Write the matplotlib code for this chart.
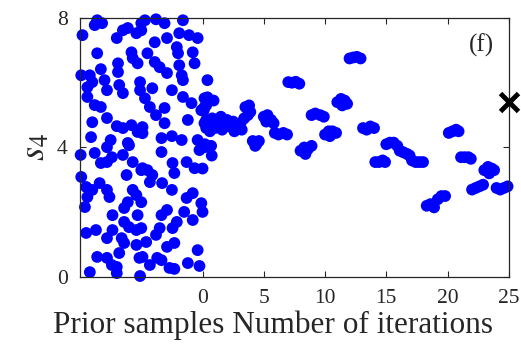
import matplotlib
matplotlib.use("Agg")
import matplotlib.pyplot as plt

plt.rcParams['font.family'] = ['Liberation Serif', 'DejaVu Serif']
plt.rcParams['mathtext.fontset'] = 'stix'

# prior samples (plotted on negative side)
prior_x = [-8.6, -8.2, -8.8, -9.8, -7.0, -6.5, -6.1, -5.4, -5.0, -8.6, -5.8, -5.7, -5.3, -6.9,
           -6.9, -8.3, -9.9, -9.2, -9.4, -9.0, -8.0, -7.8, -6.8, -6.5, -5.1, -5.1, -9.4, -8.8,
           -8.3, -9.0, -7.8, -7.0, -6.5, -5.8, -5.3, -4.9, -9.1, -7.5, -6.1,
           -4.7, -3.8, -3.1, -1.6, -5.0, -3.9, -2.9, -1.9, -1.1, -0.4, -4.5, -2.1, -2.0, -0.8,
           -0.65, -3.9, -3.5, -1.9, -1.7, -2.9, -1.6, 0.4, -4.1, -2.5, -1.6, -0.9, 0.16, 0.16,
           -4.7, -4.3, -3.1, -3.8, -3.1, -1.2, -0.1, 0.16, -4.9, -3.35, -2.5, -1.7, -0.4,
           -7.8, -6.0, -9.95, -8.8, -7.4, -6.5, -8.3, -7.8, -5.7, -5.0, -6.2, -9.9, -9.5, -9.0,
           -8.4, -7.8, -9.4, -7.6, -5.7, -5.4, -9.6, -6.1, -6.4, -7.35, -5.3, -6.4, -6.0, -5.4,
           -5.0, -9.5, -8.7, -7.35, -7.8, -6.6, -6.4, -5.4, -6.8, -8.6, -7.8, -7.4, -7.0, -5.15,
           -9.2, -7.0,
           0.16, -3.35, -0.25, -2.45, -1.3, -0.65, -4.9, -4.5, -4.1, -4.3, -2.3, -3.3, -2.5,
           -5.0, -0.8, -1.3, -0.1, 0.0, -1.5, -0.8, -3.35, -2.9, -2.1, -2.45, -3.5, -3.8, -4.6,
           -2.9, -2.3, -0.4, -4.9, -3.7, -3.35, -4.3, -2.7, -2.3, -1.2, -0.25, -5.1]
prior_y = [7.93, 7.84, 7.78, 7.47, 7.38, 7.62, 7.69, 7.53, 7.84, 6.91, 6.94, 6.76, 6.60, 6.60,
           6.33, 6.42, 6.23, 6.23, 5.86, 6.02, 6.08, 5.77, 5.93, 5.68, 6.02, 5.77, 5.56, 5.31,
           5.25, 4.78, 4.91, 4.66, 4.60, 4.69, 4.48, 4.63, 4.32, 4.23, 4.14,
           7.93, 7.96, 7.84, 7.93, 7.62, 7.25, 7.38, 7.53, 7.47, 7.38, 6.91, 7.10, 6.91, 6.94,
           6.60, 6.64, 6.48, 6.54, 6.23, 6.30, 6.08, 6.08, 5.83, 5.77, 5.56, 5.37, 5.52, 5.25,
           5.52, 5.25, 5.22, 5.00, 4.75, 4.85, 5.15, 4.75, 4.44, 4.29, 4.35, 4.23, 4.23,
           4.01, 4.07, 3.77, 3.83, 3.70, 3.77, 3.52, 3.55, 3.55, 3.30, 3.15, 3.09, 2.78, 2.69,
           2.90, 2.69, 2.47, 2.47, 2.69, 2.53, 2.16, 2.31, 2.13, 1.91, 1.91, 1.70, 1.54, 1.45,
           1.51, 1.36, 1.45, 1.45, 1.20, 1.20, 1.05, 0.99, 0.74, 0.62, 0.59, 0.37, 0.31, 0.59,
           0.15, 0.12,
           4.01, 3.86, 3.92, 3.52, 3.55, 3.36, 3.36, 3.30, 3.15, 2.93, 3.21, 2.90, 2.69,
           2.31, 2.59, 2.44, 2.28, 2.01, 2.01, 1.76, 1.91, 2.07, 1.70, 1.51, 1.51, 1.30, 1.08,
           0.93, 1.05, 0.83, 0.62, 0.59, 0.52, 0.37, 0.28, 0.25, 0.43, 0.34, 0.03]

# samples chosen during the iterations
iter_x = [0.1, 0.3, 0.4, 0.9, 0.2, 0.7, 0.75, 0.0, 0.3, 0.8, 0.3, 1.1,
          1.0, 1.3, 1.6, 1.9, 2.2, 2.5, 2.8, 3.1, 3.4, 3.7, 3.2, 2.0, 1.5, 0.6, 2.6, 3.9,
          3.5, 3.8,
          4.1, 4.4, 4.6, 4.3,
          5.0, 5.3, 5.6, 5.8, 5.2,
          5.9, 6.2, 6.6, 6.9,
          7.0, 7.3, 7.6, 7.9,
          8.0, 8.3, 8.6, 8.9, 8.4,
          8.9, 9.2, 9.6, 9.9,
          10.0, 10.3, 10.6, 10.9, 10.4,
          11.0, 11.3, 11.6, 11.4, 11.8,
          12.0, 12.3, 12.6, 12.9,
          13.1, 13.4, 13.7, 14.0,
          14.1, 14.4, 14.7, 14.9,
          15.0, 15.3, 15.6, 15.9,
          16.1, 16.4, 16.7, 16.9,
          17.1, 17.4, 17.7, 18.0,
          18.3, 18.6, 18.9,
          19.2, 19.5, 19.8,
          20.1, 20.4, 20.7, 20.9,
          21.1, 21.4, 21.7, 21.9,
          22.0, 22.3, 22.6, 22.9,
          23.0, 23.3, 23.6, 23.4, 23.8,
          24.0, 24.3, 24.6, 24.9]
iter_y = [5.15, 4.85, 5.55, 5.45, 4.10, 4.05, 3.75, 3.35, 5.30, 4.90, 4.60, 4.70,
          4.60, 4.75, 4.55, 4.70, 4.65, 4.80, 4.60, 4.75, 4.90, 5.00, 4.55, 4.85, 4.95, 4.50, 4.50, 5.10,
          5.25, 5.30,
          4.20, 4.10, 4.20, 4.05,
          4.95, 5.00, 4.85, 4.75, 4.80,
          4.45, 4.40, 4.45, 4.40,
          6.02, 6.00, 6.03, 5.97,
          3.90, 4.00, 3.95, 4.05, 3.80,
          5.00, 5.05, 5.00, 4.95,
          4.40, 4.50, 4.50, 4.45, 4.35,
          5.40, 5.50, 5.45, 5.30, 5.35,
          6.75, 6.78, 6.80, 6.75,
          4.60, 4.55, 4.65, 4.60,
          3.55, 3.55, 3.60, 3.55,
          4.10, 4.15, 4.15, 4.05,
          3.90, 3.85, 3.80, 3.75,
          3.60, 3.55, 3.55, 3.55,
          2.20, 2.25, 2.15,
          2.40, 2.50, 2.50,
          4.45, 4.50, 4.55, 4.50,
          3.70, 3.70, 3.70, 3.65,
          2.70, 2.75, 2.80, 2.85,
          3.30, 3.40, 3.35, 3.20, 3.30,
          2.75, 2.70, 2.75, 2.80]

true_x = [25]
true_y = [5.4]

xticks = [0, 5, 10, 15, 20, 25]
yticks = [0, 4, 8]

fig = plt.figure(figsize=(5.21, 3.5), dpi=100)
ax = fig.add_axes([0.1536, 0.2086, 0.823, 0.74])

ax.scatter(prior_x, prior_y, s=72, color='#0000ff', edgecolors='none', zorder=2, clip_on=False)
ax.scatter(iter_x, iter_y, s=72, color='#0000ff', edgecolors='none', zorder=2, clip_on=False)
ax.plot(true_x, true_y, 'x', color='black', markersize=13, markeredgewidth=3.5, zorder=3, clip_on=False)

ax.set_xlim(-10, 25)
ax.set_ylim(0, 8)
ax.set_xticks(xticks)
ax.set_yticks(yticks)

txt = '#262626'
ax.tick_params(direction='in', length=4, width=0.8, top=True, right=True,
               labelsize=15.5, colors=txt, pad=9)
for sp in ax.spines.values():
    sp.set_color(txt)
    sp.set_linewidth(0.9)

ax.set_xlabel('Prior samples Number of iterations', fontsize=22.5, color=txt)
ax.xaxis.set_label_coords(0.45, -0.13)
ax.set_ylabel('$s_4$', fontsize=26, color=txt, labelpad=3)
ax.text(22.8, 7.15, '(f)', fontsize=18, color=txt, ha='center', va='center')

fig.savefig('out.png', dpi=100)
